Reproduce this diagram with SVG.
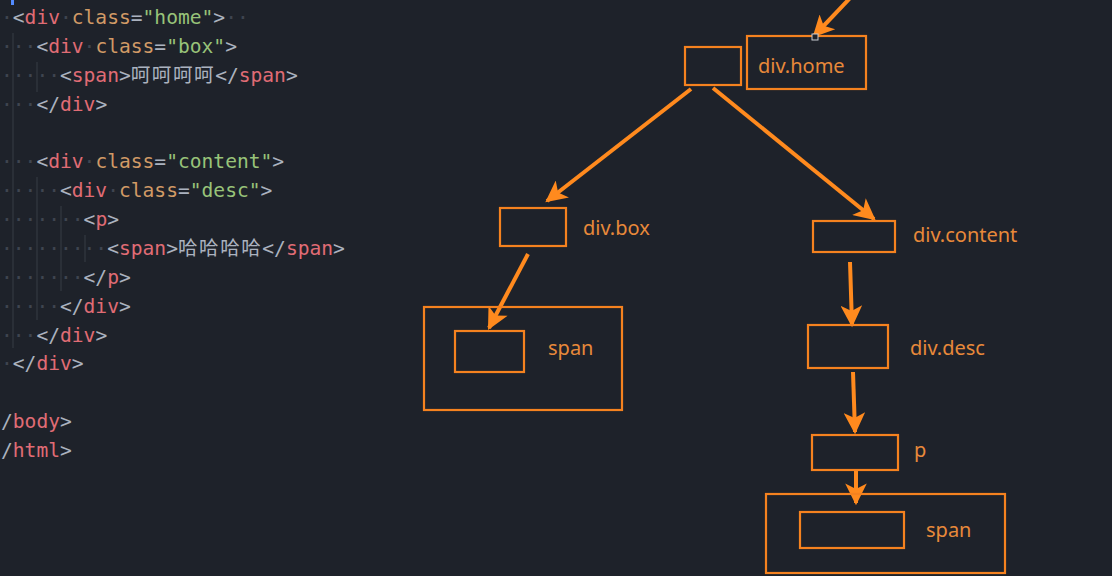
<svg xmlns="http://www.w3.org/2000/svg" width="1112" height="576" viewBox="0 0 1112 576">
<style>
.code{font-family:"DejaVu Sans Mono","Noto Sans CJK SC",monospace;font-size:19.6px}
.cjk{letter-spacing:1.5px}
.g{fill:#abb2bf}.t{fill:#e06c75}.a{fill:#d19a66}.s{fill:#98c379}.d{fill:#3f4550}
.guide{stroke:#2f343d;stroke-width:1.5}
.box{fill:none;stroke:#f5821f;stroke-width:2.2}
.lbl{font-family:"Noto Sans","Open Sans",sans-serif;font-size:20px;fill:#e8893a}
.arr{stroke:#ff8a1e;stroke-width:4;fill:none;marker-end:url(#ah)}
</style>
<defs>
<marker id="ah" viewBox="0 0 10 10" refX="9" refY="5" markerWidth="6" markerHeight="5.4" orient="auto" markerUnits="strokeWidth">
<path d="M0,0 L10,5 L0,10 L2.5,5 Z" fill="#ff8a1e"/>
</marker>
</defs>
<rect width="1112" height="576" fill="#1e222a"/>
<g id="code">
<rect x="11" y="0" width="3" height="5" fill="#528bff"/>
<line class="guide" x1="13" y1="33" x2="13" y2="348"/>
<line class="guide" x1="37" y1="62" x2="37" y2="92"/>
<line class="guide" x1="37" y1="177" x2="37" y2="320"/>
<line class="guide" x1="61" y1="206" x2="61" y2="291"/>
<line class="guide" x1="85" y1="235" x2="85" y2="262"/>
<text class="code" x="1" y="24"><tspan class="d">·</tspan><tspan class="g">&lt;</tspan><tspan class="t">div</tspan><tspan class="d">·</tspan><tspan class="a">class</tspan><tspan class="g">=</tspan><tspan class="s">"home"</tspan><tspan class="g">&gt;</tspan><tspan class="d">··</tspan></text>
<text class="code" x="1" y="53"><tspan class="d">···</tspan><tspan class="g">&lt;</tspan><tspan class="t">div</tspan><tspan class="d">·</tspan><tspan class="a">class</tspan><tspan class="g">=</tspan><tspan class="s">"box"</tspan><tspan class="g">&gt;</tspan></text>
<text class="code" x="1" y="82"><tspan class="d">·····</tspan><tspan class="g">&lt;</tspan><tspan class="t">span</tspan><tspan class="g">&gt;</tspan><tspan class="g cjk">呵呵呵呵</tspan><tspan class="g">&lt;/</tspan><tspan class="t">span</tspan><tspan class="g">&gt;</tspan></text>
<text class="code" x="1" y="111"><tspan class="d">···</tspan><tspan class="g">&lt;/</tspan><tspan class="t">div</tspan><tspan class="g">&gt;</tspan></text>
<text class="code" x="1" y="168"><tspan class="d">···</tspan><tspan class="g">&lt;</tspan><tspan class="t">div</tspan><tspan class="d">·</tspan><tspan class="a">class</tspan><tspan class="g">=</tspan><tspan class="s">"content"</tspan><tspan class="g">&gt;</tspan></text>
<text class="code" x="1" y="197"><tspan class="d">·····</tspan><tspan class="g">&lt;</tspan><tspan class="t">div</tspan><tspan class="d">·</tspan><tspan class="a">class</tspan><tspan class="g">=</tspan><tspan class="s">"desc"</tspan><tspan class="g">&gt;</tspan></text>
<text class="code" x="1" y="226"><tspan class="d">·······</tspan><tspan class="g">&lt;</tspan><tspan class="t">p</tspan><tspan class="g">&gt;</tspan></text>
<text class="code" x="1" y="255"><tspan class="d">·········</tspan><tspan class="g">&lt;</tspan><tspan class="t">span</tspan><tspan class="g">&gt;</tspan><tspan class="g cjk">哈哈哈哈</tspan><tspan class="g">&lt;/</tspan><tspan class="t">span</tspan><tspan class="g">&gt;</tspan></text>
<text class="code" x="1" y="284"><tspan class="d">·······</tspan><tspan class="g">&lt;/</tspan><tspan class="t">p</tspan><tspan class="g">&gt;</tspan></text>
<text class="code" x="1" y="313"><tspan class="d">·····</tspan><tspan class="g">&lt;/</tspan><tspan class="t">div</tspan><tspan class="g">&gt;</tspan></text>
<text class="code" x="1" y="342"><tspan class="d">···</tspan><tspan class="g">&lt;/</tspan><tspan class="t">div</tspan><tspan class="g">&gt;</tspan></text>
<text class="code" x="1" y="370"><tspan class="d">·</tspan><tspan class="g">&lt;/</tspan><tspan class="t">div</tspan><tspan class="g">&gt;</tspan></text>
<text class="code" x="1" y="428"><tspan class="g">/</tspan><tspan class="t">body</tspan><tspan class="g">&gt;</tspan></text>
<text class="code" x="1" y="457"><tspan class="g">/</tspan><tspan class="t">html</tspan><tspan class="g">&gt;</tspan></text>
</g>
<g id="connectors">
<line class="arr" x1="852" y1="-4" x2="814" y2="36"/>
<line class="arr" x1="691" y1="89" x2="547" y2="201"/>
<line class="arr" x1="713" y1="88" x2="874" y2="219"/>
<line class="arr" x1="528" y1="254" x2="489" y2="328"/>
<line class="arr" x1="850" y1="262" x2="852" y2="325"/>
<line class="arr" x1="853" y1="372" x2="855" y2="432"/>
<line class="arr" x1="856" y1="471" x2="856" y2="503"/>
</g>
<g id="node-home">
<rect class="box" x="685" y="47" width="56" height="38"/>
<rect class="box" x="747" y="36" width="119" height="53"/>
<text class="lbl" x="758" y="73">div.home</text>
<rect x="812" y="34" width="6" height="6" fill="#1e222a" stroke="#c8ccd2" stroke-width="1"/>
</g>
<g id="node-box">
<rect class="box" x="500" y="208" width="66" height="38"/>
<text class="lbl" x="583" y="235">div.box</text>
</g>
<g id="node-span1">
<rect class="box" x="424" y="307" width="198" height="103"/>
<rect class="box" x="455" y="331" width="69" height="41"/>
<text class="lbl" x="548" y="355">span</text>
</g>
<g id="node-content">
<rect class="box" x="813" y="221" width="82" height="31"/>
<text class="lbl" x="913" y="242">div.content</text>
</g>
<g id="node-desc">
<rect class="box" x="808" y="325" width="80" height="43"/>
<text class="lbl" x="910" y="355">div.desc</text>
</g>
<g id="node-p">
<rect class="box" x="812" y="435" width="86" height="35"/>
<text class="lbl" x="914" y="457">p</text>
</g>
<g id="node-span2">
<rect class="box" x="766" y="494" width="239" height="79"/>
<rect class="box" x="800" y="512" width="104" height="36"/>
<text class="lbl" x="926" y="537">span</text>
</g>
</svg>
